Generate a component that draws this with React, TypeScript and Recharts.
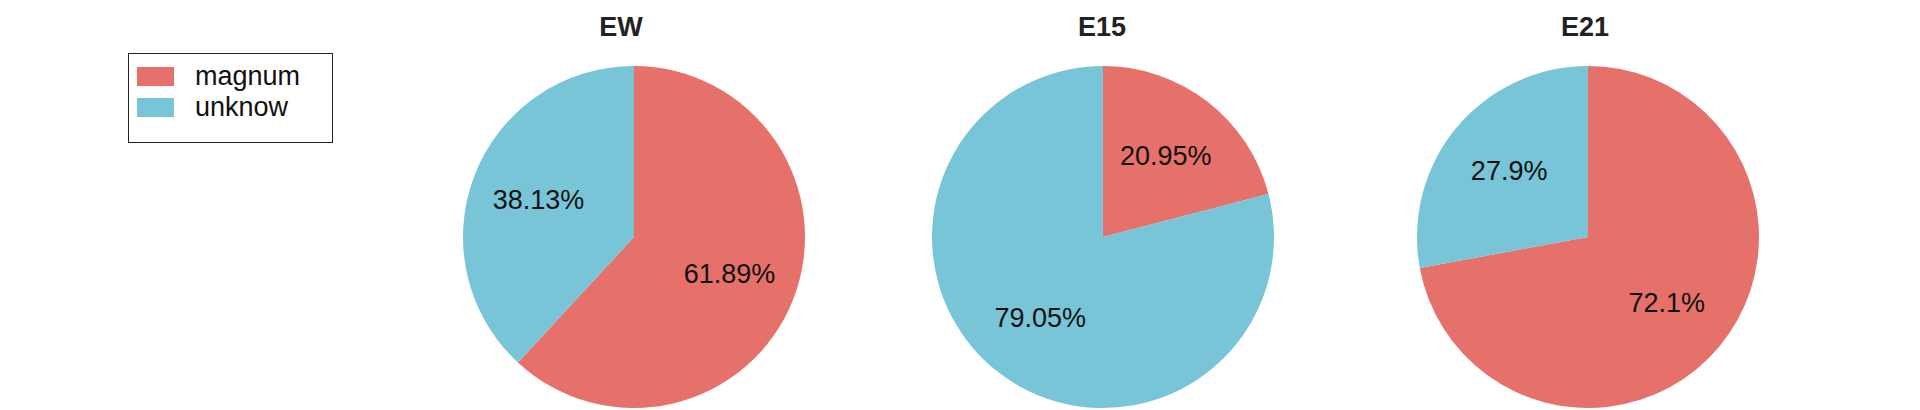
import React from "react";
import { PieChart, Pie, Cell, Legend } from "recharts";

const categories = ["magnum", "unknow"];
const colors = ["#E6706A", "#78C5D8"];
const panelTitles = ["EW", "E15", "E21"];
const ewValues = [61.89, 38.13];
const e15Values = [20.95, 79.05];
const e21Values = [72.1, 27.9];

const seriesValues = [ewValues, e15Values, e21Values];
const centersX = [634, 1103, 1588];
const titleX = [621, 1102, 1585];
const CY = 237;
const R = 171;
const FONT = "'Liberation Sans', Arial, Helvetica, sans-serif";
const RAD = Math.PI / 180;

const renderLabel = (props: any) => {
  const { cx, cy, midAngle, outerRadius, value } = props;
  const r = outerRadius * 0.6;
  const x = cx + r * Math.cos(-midAngle * RAD);
  const y = cy + r * Math.sin(-midAngle * RAD);
  return (
    <text
      x={x}
      y={y}
      fill="#111"
      textAnchor="middle"
      dominantBaseline="central"
      fontSize={27}
      fontFamily={FONT}
    >
      {`${value}%`}
    </text>
  );
};

const LegendBox = () => (
  <div
    style={{
      position: "absolute",
      left: 128,
      top: 53,
      width: 205,
      height: 90,
      boxSizing: "border-box",
      border: "1.5px solid #222",
      background: "#fff",
      fontFamily: FONT,
      fontSize: 27,
      color: "#111",
    }}
  >
    {categories.map((c, i) => (
      <div key={c} style={{ position: "absolute", left: 8, top: 13 + i * 31, height: 19, display: "flex", alignItems: "center" }}>
        <div style={{ width: 37, height: 19, background: colors[i] }} />
        <span style={{ marginLeft: 21, lineHeight: "19px" }}>{c}</span>
      </div>
    ))}
  </div>
);

export default function App() {
  return (
    <div style={{ position: "absolute", left: 0, top: 0, width: 1920, height: 410, background: "#fff", overflow: "hidden" }}>
      <PieChart
        width={1920}
        height={410}
        margin={{ top: 0, right: 0, bottom: 0, left: 0 }}
        style={{ position: "absolute", left: 0, top: 0 }}
      >
        {seriesValues.map((vals, k) => (
          <Pie
            key={panelTitles[k]}
            data={categories.map((c, i) => ({ name: c, value: vals[i] }))}
            dataKey="value"
            nameKey="name"
            cx={centersX[k]}
            cy={CY}
            outerRadius={R}
            startAngle={90}
            endAngle={-270}
            stroke="none"
            label={renderLabel}
            labelLine={false}
            isAnimationActive={false}
          >
            {categories.map((c, i) => (
              <Cell key={c} fill={colors[i]} />
            ))}
          </Pie>
        ))}
        <Legend content={() => null} />
      </PieChart>
      {panelTitles.map((t, k) => (
        <div
          key={t}
          style={{
            position: "absolute",
            left: titleX[k] - 100,
            width: 200,
            top: 10,
            textAlign: "center",
            fontFamily: FONT,
            fontWeight: "bold",
            fontSize: 27,
            lineHeight: "34px",
            color: "#222",
          }}
        >
          {t}
        </div>
      ))}
      <LegendBox />
    </div>
  );
}
